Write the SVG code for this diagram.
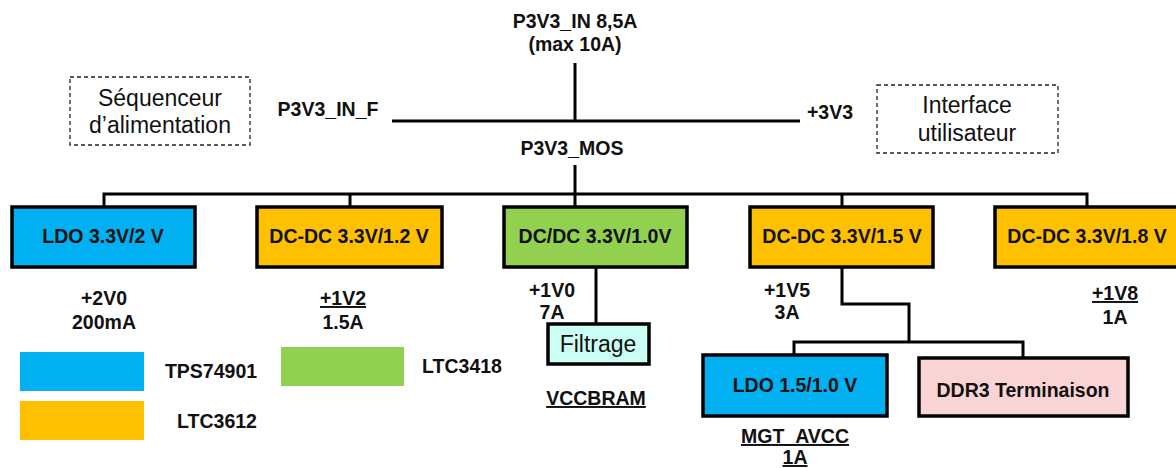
<svg xmlns="http://www.w3.org/2000/svg" width="1176" height="468" viewBox="0 0 1176 468">
<style>
.b{font-family:"Liberation Sans",Arial,sans-serif;font-weight:bold;font-size:19.5px;fill:#111;text-anchor:middle}
.r{font-family:"Liberation Sans",Arial,sans-serif;font-size:23px;fill:#111;text-anchor:middle}
.u{text-decoration:underline}
.box{stroke:#000;stroke-width:3.5}
.dash{fill:#fff;stroke:#222;stroke-width:1.3;stroke-dasharray:4 3}
.ln{stroke:#000;stroke-width:3;fill:none}
.blue{fill:#00b0f0}.orange{fill:#ffc000}.green{fill:#92d050}.cyan{fill:#ccfff4}.pink{fill:#fad4d4}
</style>
<rect width="1176" height="468" fill="#fff"/>
<g id="connectors">
<line class="ln" x1="575" y1="63" x2="575" y2="121"/>
<line class="ln" x1="392" y1="121" x2="800" y2="121"/>
<line class="ln" x1="575" y1="165" x2="575" y2="207"/>
<polyline class="ln" points="104,207 104,194 1087,194 1087,207"/>
<line class="ln" x1="350" y1="194" x2="350" y2="207"/>
<line class="ln" x1="842" y1="194" x2="842" y2="207"/>
<line class="ln" x1="596" y1="267" x2="596" y2="324"/>
<polyline class="ln" points="842,267 842,304 909,304 909,342"/>
<polyline class="ln" points="794,355 794,342 1023,342 1023,358"/>
</g>
<g id="title"><text class="b" x="575" y="28">P3V3_IN 8,5A</text><text class="b" x="575" y="51">(max 10A)</text></g>
<g id="p3v3_in_f"><text class="b" x="328" y="116">P3V3_IN_F</text></g>
<g id="p3v3"><text class="b" x="830" y="119">+3V3</text></g>
<g id="p3v3_mos"><text class="b" x="572" y="155">P3V3_MOS</text></g>
<g id="sequenceur"><rect class="dash" x="70" y="77" width="180" height="68"/><text class="r" x="160" y="106">Séquenceur</text><text class="r" x="160" y="133">d’alimentation</text></g>
<g id="interface"><rect class="dash" x="877" y="85" width="181" height="68"/><text class="r" x="967" y="113">Interface</text><text class="r" x="967" y="141">utilisateur</text></g>
<g id="ldo2v"><rect class="box blue" x="12" y="207" width="183" height="60"/><text class="b" x="103" y="243">LDO 3.3V/2 V</text></g>
<g id="dcdc12"><rect class="box orange" x="257" y="207" width="185" height="60"/><text class="b" x="349" y="243">DC-DC 3.3V/1.2 V</text></g>
<g id="dcdc10"><rect class="box green" x="504" y="207" width="183" height="60"/><text class="b" x="595" y="243">DC/DC 3.3V/1.0V</text></g>
<g id="dcdc15"><rect class="box orange" x="750" y="207" width="183" height="60"/><text class="b" x="842" y="243">DC-DC 3.3V/1.5 V</text></g>
<g id="dcdc18"><rect class="box orange" x="995" y="207" width="186" height="60"/><text class="b" x="1087" y="243">DC-DC 3.3V/1.8 V</text></g>
<g id="out2v0"><text class="b" x="104" y="305">+2V0</text><text class="b" x="104" y="329">200mA</text></g>
<g id="out1v2"><text class="b u" x="343" y="305">+1V2</text><text class="b" x="343" y="329">1.5A</text></g>
<g id="out1v0"><text class="b" x="552" y="297">+1V0</text><text class="b" x="552" y="319">7A</text></g>
<g id="out1v5"><text class="b" x="787" y="297">+1V5</text><text class="b" x="787" y="319">3A</text></g>
<g id="out1v8"><text class="b u" x="1115" y="300">+1V8</text><text class="b" x="1115" y="324">1A</text></g>
<g id="filtrage"><rect class="box cyan" x="548" y="324" width="101" height="40"/><text class="r" x="598" y="352">Filtrage</text></g>
<g id="vccbram"><text class="b u" x="596" y="405">VCCBRAM</text></g>
<g id="ldo10"><rect class="box blue" x="703" y="355" width="184" height="61"/><text class="b" x="795" y="392">LDO 1.5/1.0 V</text></g>
<g id="ddr3"><rect class="box pink" x="919" y="358" width="209" height="58"/><text class="b" x="1023" y="397">DDR3 Terminaison</text></g>
<g id="mgt"><text class="b u" x="795" y="443">MGT_AVCC</text><text class="b u" x="795" y="464">1A</text></g>
<g id="legend">
<rect class="blue" x="20" y="352" width="124" height="39"/>
<text class="b" x="211" y="378">TPS74901</text>
<rect class="orange" x="20" y="401" width="124" height="39"/>
<text class="b" x="217" y="428">LTC3612</text>
<rect class="green" x="281" y="347" width="123" height="39"/>
<text class="b" x="462" y="373">LTC3418</text>
</g>
</svg>
